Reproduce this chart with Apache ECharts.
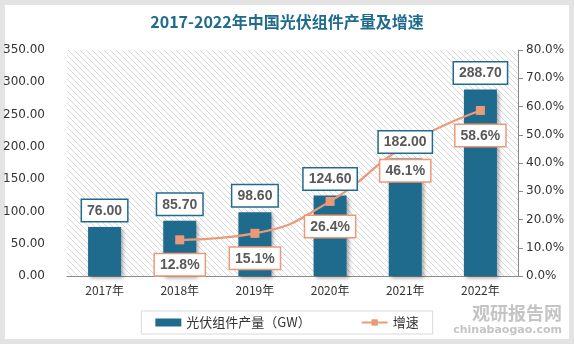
<!DOCTYPE html>
<html><head><meta charset="utf-8">
<script src="https://cdn.jsdelivr.net/npm/echarts@6/dist/echarts.min.js"></script>
<style>html,body{margin:0;padding:0;background:#fff}#c{width:574px;height:344px}</style>
</head><body><div id="c"></div>
<script>
const categories = ['2017年','2018年','2019年','2020年','2021年','2022年'];
const production = [76.00, 85.70, 98.60, 124.60, 182.00, 288.70];
const growth = [null, 12.8, 15.1, 26.4, 46.1, 58.6];
const leftTicks = {min:0, max:350, interval:50};
const rightTicks = {min:0, max:80, interval:10};

const pc = document.createElement('canvas');
pc.width = 6; pc.height = 6;
const g = pc.getContext('2d');
g.fillStyle = '#ffffff'; g.fillRect(0,0,6,6);
g.strokeStyle = '#d9d9d9'; g.lineWidth = 1;
g.beginPath(); g.moveTo(0,0); g.lineTo(6,6); g.moveTo(-3,3); g.lineTo(3,9); g.moveTo(3,-3); g.lineTo(9,3); g.stroke();

const chart = echarts.init(document.getElementById('c'));
const lblFont = {fontFamily:'"Liberation Sans", Arial, sans-serif', fontSize:14, fontWeight:'bold', color:'#595959'};
chart.setOption({
  backgroundColor:'#fff',
  title:{text:'2017-2022年中国光伏组件产量及增速', left:'center', top:9,
    textStyle:{fontFamily:'"Noto Sans CJK SC", sans-serif', fontSize:16, fontWeight:'bold', color:'#1f6b8e'}},
  graphic:[
    {type:'rect', shape:{x:2.5,y:2.5,width:569,height:339}, style:{fill:null, stroke:'#e3e3e3', lineWidth:5}, silent:true},
    {type:'text', right:12, bottom:22, style:{text:'观研报告网', font:'bold 18px "Noto Sans CJK SC"', fill:'#c4c4c4'}},
    {type:'text', right:12, bottom:8, style:{text:'chinabaogao.com', font:'bold 11px "DejaVu Sans"', fill:'#c4c4c4'}}
  ],
  grid:{left:64, right:56, top:50, bottom:68, show:true, backgroundColor:{image:pc, repeat:'repeat'}, borderWidth:0},
  legend:{bottom:10, left:'center', itemGap:50, padding:[5,14], borderColor:'#d9d9d9', borderWidth:1,
    itemWidth:26, itemHeight:8,
    textStyle:{fontFamily:'"Noto Sans CJK SC", sans-serif', fontSize:13, color:'#333'},
    data:[{name:'光伏组件产量（GW）', icon:'rect'}, {name:'增速'}]},
  xAxis:{type:'category', data:categories, axisTick:{show:false},
    axisLine:{lineStyle:{color:'#8c8c8c'}},
    axisLabel:{fontFamily:'"Noto Sans CJK SC", sans-serif', fontSize:12, color:'#333', margin:8}},
  yAxis:[
    {type:'value', ...leftTicks, splitLine:{show:false}, axisLine:{show:false}, axisTick:{show:false},
      axisLabel:{formatter:v=>v.toFixed(2), fontFamily:'"DejaVu Sans", sans-serif', fontSize:12, color:'#333', margin:22}},
    {type:'value', ...rightTicks, splitLine:{show:false}, axisLine:{show:true, lineStyle:{color:'#8c8c8c'}},
      axisTick:{show:true, length:5, lineStyle:{color:'#8c8c8c'}},
      axisLabel:{formatter:v=>v.toFixed(1)+'%', fontFamily:'"DejaVu Sans", sans-serif', fontSize:12, color:'#333', margin:8}}
  ],
  series:[
    {name:'光伏组件产量（GW）', type:'bar', data:production, barWidth:33, z:2,
      itemStyle:{color:'#1f6b8e', shadowColor:'rgba(0,0,0,0.35)', shadowBlur:4, shadowOffsetX:2, shadowOffsetY:2}},
    {name:'增速', type:'line', yAxisIndex:1, data:growth, smooth:true, symbol:'rect', symbolSize:9, z:3,
      lineStyle:{color:'#eb9a78', width:2.2}, itemStyle:{color:'#eb9a78'},
      label:{show:true, position:'bottom', distance:10, formatter:p=>p.value.toFixed(1)+'%', ...lblFont,
        backgroundColor:'#fff', borderColor:'#eb9a78', borderWidth:1.5, padding:[4,5,3,5]}},
    {name:'barLabels', type:'bar', data:production, barWidth:33, barGap:'-100%', z:4, silent:true,
      itemStyle:{color:'rgba(0,0,0,0)'},
      label:{show:true, position:'top', distance:6, formatter:p=>p.value.toFixed(2), ...lblFont,
        backgroundColor:'#fff', borderColor:'#1f6b8e', borderWidth:1.5, padding:[4,5,3,5]}}
  ]
});
</script></body></html>
